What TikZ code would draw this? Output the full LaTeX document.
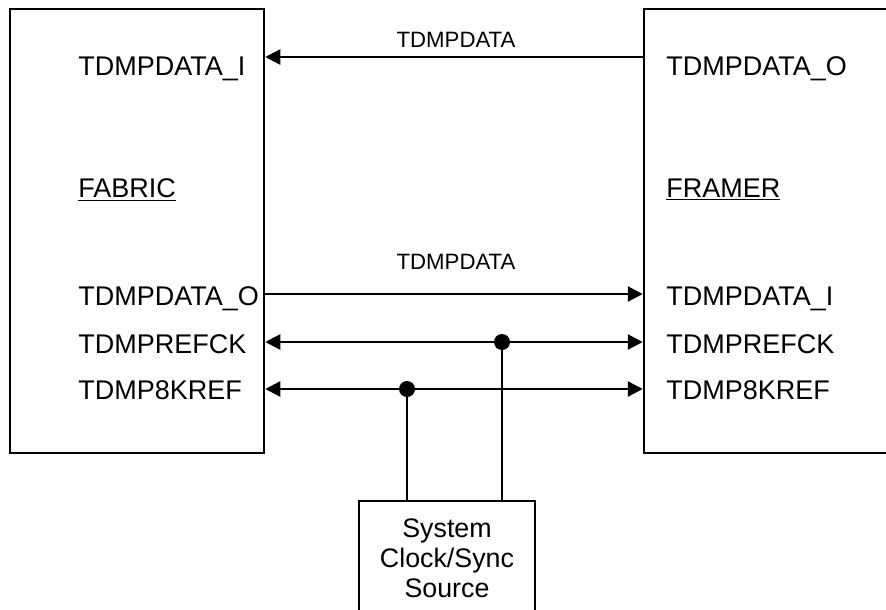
\documentclass[tikz,border=0pt]{standalone}
\usepackage{fontspec}
\setmainfont{Liberation Sans}
\usetikzlibrary{arrows.meta,positioning,calc}

\tikzset{
  blockbox/.style={draw, line width=1.25pt, minimum width=127pt, minimum height=222pt, inner sep=0pt},
  sysbox/.style={draw, line width=1.25pt, minimum width=88pt, minimum height=70pt, inner sep=0pt},
  portlbl/.style={anchor=base west, inner sep=0pt, font=\fontsize{13.5}{15}\selectfont},
  buslbl/.style={anchor=base, inner sep=0pt, font=\fontsize{11.1}{13}\selectfont},
  sig/.style={line width=1.2pt},
  bustip/.tip={Triangle[length=7.5pt,width=7.5pt]},
  junc/.style={circle, fill, inner sep=0pt, minimum size=8pt}
}

\begin{document}
\begin{tikzpicture}[x=0.5pt,y=-0.5pt]
  \useasboundingbox (0,0) rectangle (886,609);
  \clip (0,0) rectangle (886,609);

  % blocks
  \node[blockbox] (fabric) at (137,231) {};
  \node[blockbox] (framer) at (771,231) {};
  \node[sysbox] (sys) at (447,571) {};
  \node[inner sep=0pt, align=center, font=\fontsize{13.4}{15}\selectfont] (systxt) at (447,558) {System\\Clock/Sync\\Source};

  % port names
  \node[portlbl] (fdi) at (78,76) {TDMPDATA\_I};
  \node[portlbl] (fname) at (78,197) {\underline{FABRIC}};
  \node[portlbl] (fdo) at (78,305) {TDMPDATA\_O};
  \node[portlbl] (fref) at (78,353) {TDMPREFCK};
  \node[portlbl] (f8k) at (78,399) {TDMP8KREF};

  \node[portlbl] (rdo) at (666,76) {TDMPDATA\_O};
  \node[portlbl] (rname) at (666,197) {\underline{FRAMER}};
  \node[portlbl] (rdi) at (666,305) {TDMPDATA\_I};
  \node[portlbl] (rref) at (666,353) {TDMPREFCK};
  \node[portlbl] (r8k) at (666,399) {TDMP8KREF};

  % signal rows
  \coordinate (rowA) at (0,57);
  \coordinate (rowB) at (0,294);
  \coordinate (rowC) at (0,342);
  \coordinate (rowD) at (0,389);
  \coordinate (jref) at (502,342);
  \coordinate (j8k) at (407,389);

  \node[buslbl] (busA) at (456,48) {TDMPDATA};
  \node[buslbl] (busB) at (456,269) {TDMPDATA};

  \draw[sig,-bustip] (framer.west |- rowA) -- (fabric.east |- rowA);
  \draw[sig,-bustip] (fabric.east |- rowB) -- (framer.west |- rowB);
  \draw[sig,bustip-bustip] (fabric.east |- rowC) -- (framer.west |- rowC);
  \draw[sig,bustip-bustip] (fabric.east |- rowD) -- (framer.west |- rowD);

  \node[junc] (dref) at (jref) {};
  \node[junc] (d8k) at (j8k) {};
  \draw[sig] (dref.center) -- (dref.center |- sys.north);
  \draw[sig] (d8k.center) -- (d8k.center |- sys.north);
\end{tikzpicture}
\end{document}
